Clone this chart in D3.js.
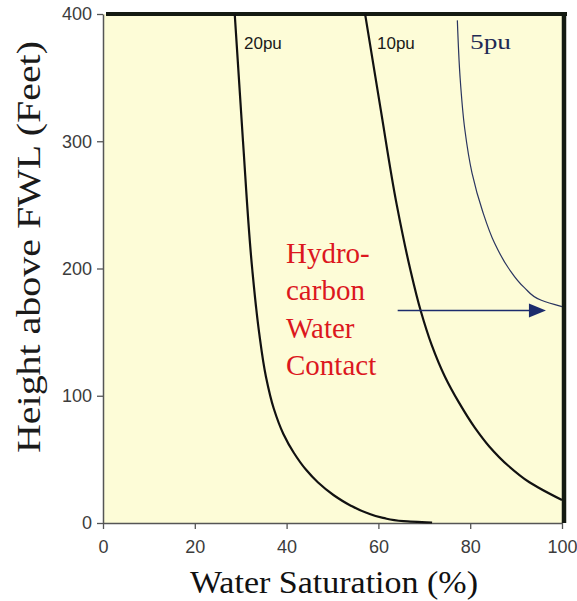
<!DOCTYPE html>
<html>
<head>
<meta charset="utf-8">
<script src="https://cdn.jsdelivr.net/npm/d3@7/dist/d3.min.js"></script>
<style>
  html, body { margin: 0; padding: 0; background: #ffffff; }
  svg { display: block; }
</style>
</head>
<body>
<svg id="chart" width="577" height="601"></svg>
<script>
// Capillary-pressure saturation-height curves for three porosities
const xTicks = [0, 20, 40, 60, 80, 100];
const yTicks = [0, 100, 200, 300, 400];

// 20 porosity units: height above FWL (ft) and water saturation (%)
const h20  = [400, 300, 200, 150, 115, 90, 70, 55, 42, 32, 22, 14, 8, 4, 1.5, 0.4];
const sw20 = [28.7, 30.5, 32.5, 34.0, 35.5, 37.2, 39.3, 41.6, 44.2, 46.8, 50.2, 53.8, 57.4, 61.0, 65.5, 71.7];

// 10 porosity units
const h10  = [400, 325, 250, 200, 167, 140, 115, 95, 75, 60, 45, 32, 18];
const sw10 = [57.1, 60.5, 64.0, 66.9, 69.2, 71.6, 74.5, 77.5, 81.0, 84.2, 88.3, 92.9, 100];

// 5 porosity units
const h5  = [395, 350, 310, 275, 245, 220, 200, 185, 175, 170];
const sw5 = [77.2, 77.8, 78.8, 80.4, 82.7, 85.3, 88.4, 91.8, 95.5, 100];

// Hydrocarbon-water contact arrow (saturation from/to, height)
const arrowSw = [64.2, 96.5];
const arrowH = 167;

const curveLabels = ["20pu", "10pu", "5pu"];
const contactLines = ["Hydro-", "carbon", "Water", "Contact"];

const svg = d3.select("#chart");
const plotL = 103, plotR = 562, plotT = 14, plotB = 523;

const x = d3.scaleLinear().domain([0, 100]).range([plotL, plotR]);
const y = d3.scaleLinear().domain([0, 400]).range([plotB, plotT]);

// plot background
svg.append("rect")
  .attr("x", plotL).attr("y", plotT)
  .attr("width", plotR - plotL).attr("height", plotB - plotT)
  .attr("fill", "#fdfcd7");

// axes
const sans = "'Liberation Sans', Arial, sans-serif";
const serif = "'Liberation Serif', 'Times New Roman', serif";

const gx = svg.append("g")
  .attr("transform", `translate(0,${plotB})`)
  .call(d3.axisBottom(x).tickValues(xTicks).tickSize(6).tickSizeOuter(0).tickPadding(11));
const gy = svg.append("g")
  .attr("transform", `translate(${plotL},0)`)
  .call(d3.axisLeft(y).tickValues(yTicks).tickSize(6).tickSizeOuter(0).tickPadding(5));

[gx, gy].forEach(g => {
  g.select(".domain").attr("stroke", "#555").attr("stroke-width", 1.5);
  g.selectAll(".tick line").attr("stroke", "#555").attr("stroke-width", 1.3);
  g.selectAll(".tick text")
    .attr("fill", "#3c3c3c")
    .style("font-family", sans)
    .style("font-size", "18px");
});

// heavy frame on top and right
svg.append("line")
  .attr("x1", plotL + 3).attr("x2", plotR + 5)
  .attr("y1", plotT).attr("y2", plotT)
  .attr("stroke", "#141a12").attr("stroke-width", 4);
svg.append("line")
  .attr("x1", plotR + 2).attr("x2", plotR + 2)
  .attr("y1", plotT - 2).attr("y2", plotB)
  .attr("stroke", "#141a12").attr("stroke-width", 4.5);

// curves (monotone in height)
const line = d3.line()
  .x(d => x(d[0]))
  .y(d => y(d[1]))
  .curve(d3.curveMonotoneY);

const zip = (sw, h) => sw.map((v, i) => [v, h[i]]);

svg.append("path")
  .datum(zip(sw20, h20))
  .attr("d", line)
  .attr("fill", "none").attr("stroke", "#111").attr("stroke-width", 2.2);
svg.append("path")
  .datum(zip(sw10, h10))
  .attr("d", line)
  .attr("fill", "none").attr("stroke", "#111").attr("stroke-width", 2.2);
svg.append("path")
  .datum(zip(sw5, h5))
  .attr("d", line)
  .attr("fill", "none").attr("stroke", "#2a3560").attr("stroke-width", 1.2);

// curve labels
svg.append("text")
  .attr("x", 244).attr("y", 49)
  .style("font-family", sans).style("font-size", "17px")
  .attr("fill", "#1a1a1a")
  .text(curveLabels[0]);
svg.append("text")
  .attr("x", 377).attr("y", 49)
  .style("font-family", sans).style("font-size", "17px")
  .attr("fill", "#1a1a1a")
  .text(curveLabels[1]);
svg.append("text")
  .attr("x", 470).attr("y", 49)
  .style("font-family", serif).style("font-size", "22px")
  .attr("fill", "#1f2a55")
  .attr("textLength", 41).attr("lengthAdjust", "spacingAndGlyphs")
  .text(curveLabels[2]);

// contact annotation
const red = "#dc171e";
const annot = svg.append("text")
  .style("font-family", serif).style("font-size", "29px")
  .attr("fill", red);
contactLines.forEach((t, i) => {
  annot.append("tspan")
    .attr("x", 286).attr("y", 263 + i * 37.3)
    .text(t);
});

// arrow
const navy = "#1c2c6c";
const ax0 = x(arrowSw[0]), ax1 = x(arrowSw[1]), ay = y(arrowH);
svg.append("line")
  .attr("x1", ax0).attr("x2", ax1 - 14)
  .attr("y1", ay).attr("y2", ay)
  .attr("stroke", navy).attr("stroke-width", 1.6);
svg.append("path")
  .attr("d", `M${ax1},${ay} L${ax1 - 17},${ay - 7} L${ax1 - 17},${ay + 7} Z`)
  .attr("fill", navy);

// axis titles
svg.append("text")
  .attr("x", 334).attr("y", 593)
  .attr("text-anchor", "middle")
  .style("font-family", serif).style("font-size", "32px")
  .attr("fill", "#111")
  .attr("textLength", 288).attr("lengthAdjust", "spacingAndGlyphs")
  .text("Water Saturation (%)");
svg.append("text")
  .attr("transform", "translate(40,247) rotate(-90)")
  .attr("text-anchor", "middle")
  .style("font-family", serif).style("font-size", "34px")
  .attr("fill", "#1a1a1a")
  .attr("textLength", 412).attr("lengthAdjust", "spacingAndGlyphs")
  .text("Height above FWL (Feet)");
</script>
</body>
</html>
